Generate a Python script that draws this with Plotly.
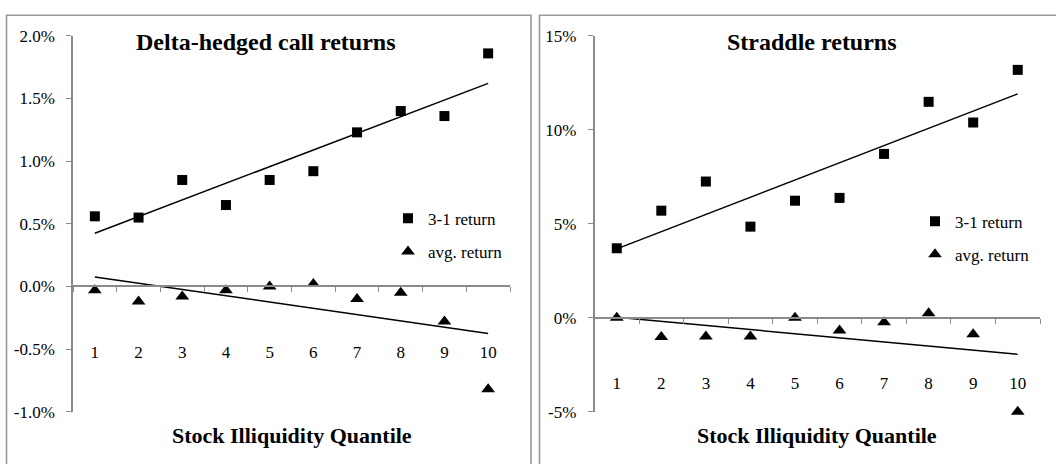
import numpy as np
import plotly.graph_objects as go

# Quantile buckets of stock illiquidity (1 = most liquid, 10 = least liquid)
quantiles = [str(i) for i in range(1, 11)]

# Monthly returns in percent
call_spread = [0.56, 0.55, 0.85, 0.65, 0.85, 0.92, 1.23, 1.40, 1.36, 1.86]
call_avg = [-0.03, -0.12, -0.08, -0.03, 0.00, 0.02, -0.10, -0.05, -0.28, -0.82]
straddle_spread = [3.70, 5.70, 7.25, 4.85, 6.23, 6.38, 8.72, 11.49, 10.39, 13.19]
straddle_avg = [0.00, -1.02, -0.99, -0.99, 0.00, -0.68, -0.24, 0.24, -0.87, -5.00]

call_tickvals = [-1.0, -0.5, 0.0, 0.5, 1.0, 1.5, 2.0]
call_ticktext = ["-1.0%", "-0.5%", "0.0%", "0.5%", "1.0%", "1.5%", "2.0%"]
straddle_tickvals = [-5, 0, 5, 10, 15]
straddle_ticktext = ["-5%", "0%", "5%", "10%", "15%"]

series_names = ["3-1 return", "avg. return"]
panel_titles = ["Delta-hedged call returns", "Straddle returns"]
axis_title = "Stock Illiquidity Quantile"

W, H = 1056, 464
FONT = "Liberation Serif"
AXIS_GREY = "#8a8a8a"
TICK_FONT = dict(family=FONT, size=17, color="black")


def fx(px):
    return px / W


def fy(py):
    return 1 - py / H


def trend(values):
    xs = np.arange(1, len(values) + 1)
    slope, intercept = np.polyfit(xs, values, 1)
    return [intercept + slope * xs[0], intercept + slope * xs[-1]]


y_dom = [fy(420), fy(28)]
panels = [
    dict(x="x", y="y", legend="legend", dom=[fx(73), fx(510)],
         rng=[-1.0, 2.0], tv=call_tickvals, tt=call_ticktext,
         spread=call_spread, avg=call_avg),
    dict(x="x2", y="y2", legend="legend2", dom=[fx(594.5), fx(1040)],
         rng=[-5, 15], tv=straddle_tickvals, tt=straddle_ticktext,
         spread=straddle_spread, avg=straddle_avg),
]

fig = go.Figure()
for p in panels:
    fig.add_trace(go.Scatter(
        x=quantiles, y=p["spread"], mode="markers", name=series_names[0],
        marker=dict(symbol="square", size=10, color="black"), cliponaxis=False,
        xaxis=p["x"], yaxis=p["y"], legend=p["legend"], legendgroup=p["legend"] + "a",
    ))
    fig.add_trace(go.Scatter(
        x=quantiles, y=p["avg"], mode="markers", name=series_names[1],
        marker=dict(symbol="triangle-up", size=12, color="black"), cliponaxis=False,
        xaxis=p["x"], yaxis=p["y"], legend=p["legend"], legendgroup=p["legend"] + "b",
    ))
    for vals in (p["spread"], p["avg"]):
        fig.add_trace(go.Scatter(
            x=[quantiles[0], quantiles[-1]], y=trend(vals), mode="lines",
            line=dict(color="black", width=1.5), showlegend=False,
            xaxis=p["x"], yaxis=p["y"], hoverinfo="skip",
        ))

layout = dict(
    width=W, height=H,
    margin=dict(l=0, r=0, t=0, b=0),
    paper_bgcolor="white", plot_bgcolor="white",
    font=dict(family=FONT, size=17, color="black"),
)

for i, p in enumerate(panels):
    suffix = "" if i == 0 else "2"
    lo, hi = p["rng"]
    zero_pos = y_dom[0] + (0 - lo) / (hi - lo) * (y_dom[1] - y_dom[0])
    layout["xaxis" + suffix] = dict(
        domain=p["dom"], type="category", range=[-0.5, 9.5],
        anchor="free", position=zero_pos,
        showline=True, linecolor=AXIS_GREY, linewidth=1.5,
        ticks="outside", tickson="boundaries", ticklen=5, tickcolor=AXIS_GREY,
        tickwidth=1.3, showgrid=False, zeroline=False,
        ticklabelstandoff=50, tickfont=TICK_FONT,
    )
    layout["yaxis" + suffix] = dict(
        domain=y_dom, range=[lo, hi], anchor=p["x"],
        tickvals=p["tv"], ticktext=p["tt"],
        showline=True, linecolor=AXIS_GREY, linewidth=1.5,
        ticks="outside", ticklen=5, tickcolor=AXIS_GREY, tickwidth=1.3,
        showgrid=False, zeroline=False, ticklabelstandoff=8,
        tickfont=TICK_FONT,
    )

legend_style = dict(
    xanchor="left", yanchor="top", bgcolor="rgba(0,0,0,0)",
    font=dict(family=FONT, size=17, color="black"), itemwidth=30, tracegroupgap=8,
    traceorder="grouped",
)
layout["legend"] = dict(x=fx(388), y=fy(200), **legend_style)
layout["legend2"] = dict(x=fx(915), y=fy(203), **legend_style)

title_font = dict(family=FONT, size=24, color="black")
axis_title_font = dict(family=FONT, size=22, color="black")
layout["annotations"] = [
    dict(text="<b>%s</b>" % panel_titles[0], x=fx(266), y=fy(34), xref="paper", yref="paper",
         showarrow=False, font=title_font, xanchor="center", yanchor="middle"),
    dict(text="<b>%s</b>" % panel_titles[1], x=fx(812), y=fy(34), xref="paper", yref="paper",
         showarrow=False, font=title_font, xanchor="center", yanchor="middle"),
    dict(text="<b>%s</b>" % axis_title, x=fx(292), y=fy(445), xref="paper", yref="paper",
         showarrow=False, font=axis_title_font, xanchor="center", yanchor="middle"),
    dict(text="<b>%s</b>" % axis_title, x=fx(817), y=fy(445), xref="paper", yref="paper",
         showarrow=False, font=axis_title_font, xanchor="center", yanchor="middle"),
]

# Panel frames; their lower and right edges run past the figure edge
layout["shapes"] = [
    dict(type="rect", xref="paper", yref="paper", x0=fx(6.5), x1=fx(531),
         y0=fy(490), y1=fy(6.5), line=dict(color="#9a9a9a", width=1.6)),
    dict(type="rect", xref="paper", yref="paper", x0=fx(539.5), x1=fx(1090),
         y0=fy(490), y1=fy(6.5), line=dict(color="#9a9a9a", width=1.6)),
]

fig.update_layout(**layout)
fig.write_html("out.html")
